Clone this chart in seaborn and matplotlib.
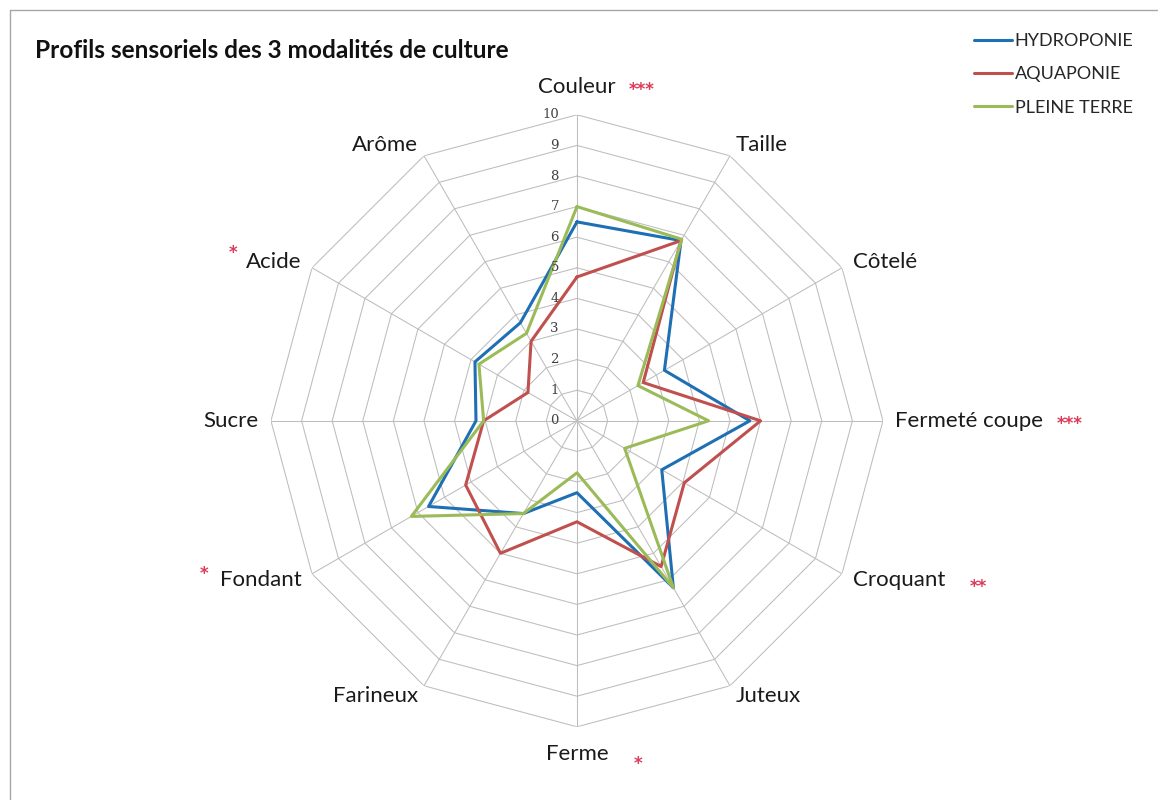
import numpy as np
import pandas as pd
import matplotlib
matplotlib.use("Agg")
import matplotlib.pyplot as plt
import seaborn as sns
from matplotlib.lines import Line2D

# Sensory criteria, clockwise from the top
criteres = ["Couleur", "Taille", "Côtelé", "Fermeté coupe", "Croquant", "Juteux",
            "Ferme", "Farineux", "Fondant", "Sucre", "Acide", "Arôme"]
etoiles = ["***", "", "", "***", "**", "", "*", "", "*", "", "*", ""]

hydroponie = [6.5, 6.8, 3.3, 5.65, 3.2, 6.3, 2.35, 3.5, 5.6, 3.3, 3.85, 3.7]
aquaponie = [4.7, 6.8, 2.5, 6.0, 4.05, 5.5, 3.3, 5.0, 4.2, 3.05, 1.85, 3.0]
pleine_terre = [7.0, 6.85, 2.3, 4.3, 1.8, 6.3, 1.7, 3.5, 6.25, 3.05, 3.7, 3.3]

modalites = ["HYDROPONIE", "AQUAPONIE", "PLEINE TERRE"]
couleurs = ["#1f6fb4", "#c0504d", "#9bbb59"]
graduations = list(range(0, 11))

titre = "Profils sensoriels des 3 modalités de culture"

sns.set_theme(style="white")
plt.rcParams['font.family'] = ['Lato', 'DejaVu Sans']

n = len(criteres)
angles = np.linspace(0, 2 * np.pi, n, endpoint=False)
angles_fermes = np.append(angles, 2 * np.pi)

# long table, first point repeated to close each polygon
rows = []
for nom, valeurs in zip(modalites, [hydroponie, aquaponie, pleine_terre]):
    for a, v in zip(angles_fermes, valeurs + valeurs[:1]):
        rows.append({"angle": a, "valeur": v, "modalite": nom})
df = pd.DataFrame(rows)

fig = plt.figure(figsize=(11.58, 8), dpi=100)
ax = fig.add_axes([0.234, 0.0915, 0.5285, 0.765], projection='polar')
ax.set_theta_zero_location('N')
ax.set_theta_direction(-1)

# polygon grid
gris = "#bdbdbd"
for r in graduations[1:]:
    ax.plot(angles_fermes, [r] * (n + 1), color=gris, lw=0.75, zorder=1)
for a in angles:
    ax.plot([a, a], [0, graduations[-1]], color=gris, lw=0.75, zorder=1)

sns.lineplot(data=df, x="angle", y="valeur", hue="modalite",
             palette=dict(zip(modalites, couleurs)), sort=False,
             estimator=None, linewidth=2.2, ax=ax, zorder=3)

ax.set_ylim(0, 10)
ax.grid(False)
ax.spines['polar'].set_visible(False)
ax.set_xticks([])
ax.set_yticks([])
ax.set_xlabel("")
ax.set_ylabel("")

handles, labels = ax.get_legend_handles_labels()
ax.get_legend().remove()
fig.legend(handles, labels, loc='upper left', bbox_to_anchor=(958 / 1158, 1 - 17 / 800),
           frameon=False, fontsize=13, handlelength=2.1, handletextpad=0.15,
           labelspacing=0.95)

# radial graduations
for g in graduations:
    ax.annotate(str(g), xy=(0, g), xytext=(-13, 0), textcoords='offset points',
                ha='right', va='center', fontsize=9.5, family='DejaVu Serif',
                color='#404040')

# category labels with significance stars
decal_etoiles = {
    "Couleur": (9, -2), "Fermeté coupe": (10, -2), "Croquant": (18, -5),
    "Ferme": (18, -7), "Fondant": (-8, 4), "Acide": (-6, 6),
}
for a, nom, et in zip(angles, criteres, etoiles):
    s = np.sin(a)
    if abs(s) < 0.1:
        t = ax.text(a, 10.9, nom, ha='center', va='center', fontsize=16, color='#1a1a1a')
    else:
        t = ax.text(a, 10.4, nom, ha='left' if s > 0 else 'right', va='center',
                    fontsize=16, color='#1a1a1a')
    if et:
        dx, dy = decal_etoiles[nom]
        if dx < 0:
            ax.annotate(et, xy=(0, 0.5), xycoords=t, xytext=(dx, dy),
                        textcoords='offset points', ha='right', va='center',
                        fontsize=12, family='DejaVu Sans', fontweight='bold',
                        color='#dc3a58')
        else:
            ax.annotate(et, xy=(1, 0.5), xycoords=t, xytext=(dx, dy),
                        textcoords='offset points', ha='left', va='center',
                        fontsize=12, family='DejaVu Sans', fontweight='bold',
                        color='#dc3a58')

fig.text(35 / 1158, 1 - 50 / 800, titre, fontsize=17.6, fontweight='bold',
         ha='left', va='center', color='#111111')

# frame of the original figure (left and top edges only visible)
fig.add_artist(Line2D([10 / 1158, 10 / 1158], [0, 1 - 10 / 800],
                      transform=fig.transFigure, color='#a6a6a6', lw=1))
fig.add_artist(Line2D([10 / 1158, 1], [1 - 10 / 800, 1 - 10 / 800],
                      transform=fig.transFigure, color='#a6a6a6', lw=1))

fig.savefig("out.png", dpi=100)
